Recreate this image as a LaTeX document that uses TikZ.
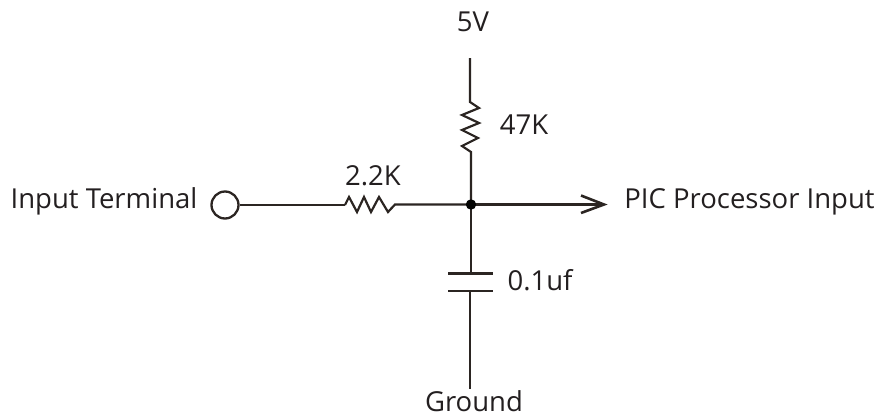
\documentclass[tikz,border=0pt]{standalone}
\usepackage{fontspec}
\setmainfont{Open Sans}
\definecolor{ink}{HTML}{2B2522}
\definecolor{txt}{HTML}{231F20}
\tikzset{
  wire/.style={draw=ink,line width=2.2pt,line join=miter},
  plate/.style={draw=ink,line width=2.6pt},
  lbl/.style={inner sep=0pt,text=txt,font=\fontsize{27.5}{31}\selectfont,anchor=base}
}
\begin{document}
\begin{tikzpicture}[x=1pt,y=-1pt]
\useasboundingbox (0,0) rectangle (878,418);
% named points
\coordinate (j) at (471,204.5);
\coordinate (top) at (470,58);
\coordinate (r2a) at (470,102);
\coordinate (r2b) at (471,152);
\coordinate (c1) at (471,273.5);
\coordinate (c2) at (470,291);
\coordinate (bot) at (470,389);
\coordinate (r1a) at (345,205);
\coordinate (r1b) at (395,204.5);
\coordinate (tip) at (604,204.5);
\node[circle,draw=ink,line width=2.3pt,minimum size=27pt,inner sep=0pt] (term) at (225,205) {};
% wires
\draw[wire] (term.east) -- (r1a);
\draw[wire] (r1a) -- (349,197) -- (357,212) -- (364,197) -- (371,212) -- (379,197) -- (388,212) -- (r1b) -- (j);
\draw[wire] (top) -- (r2a) -- (479,108) -- (462,115) -- (479,123) -- (462,130) -- (478,138) -- (462,146) -- (r2b) -- (j);
\draw[wire] (j) -- (c1);
\draw[wire] (c2) -- (bot);
\draw[plate] (448,273.5) -- (493,273.5);
\draw[plate] (448,291) -- (493,291);
\draw[wire] (j) -- (tip);
\draw[wire,line width=2.6pt] (581,195.5) -- (tip) -- (581,213);
\fill[black!90!ink] (j) circle (5.2);
% labels
\node[lbl] (t5v) at (473,31) {5V};
\node[lbl] (t47) at (524,134) {47K};
\node[lbl] (t22) at (373,185) {2.2K};
\node[lbl] (tin) at (104,208) {Input Terminal};
\node[lbl] (tpic) at (749.5,208) {PIC Processor Input};
\node[lbl] (t01) at (540,290) {0.1uf};
\node[lbl] (tg) at (474,411) {Ground};
\end{tikzpicture}
\end{document}
